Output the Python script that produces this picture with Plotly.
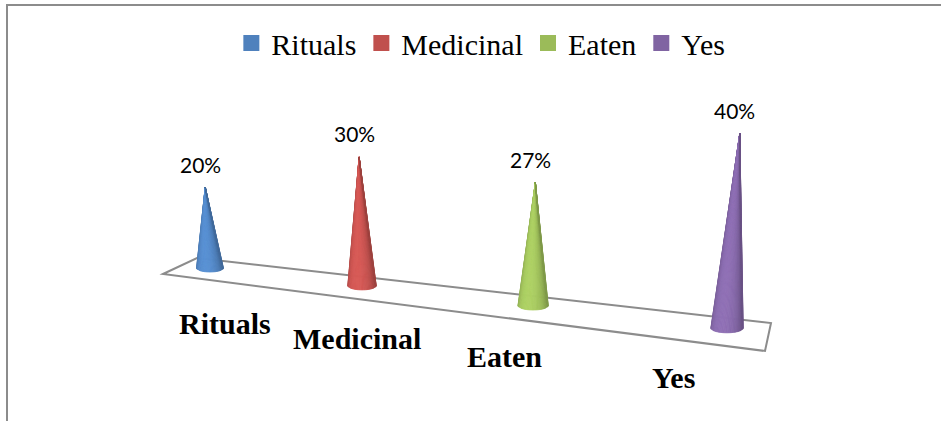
import numpy as np
import plotly.graph_objects as go

# ---- data ----
categories = ["Rituals", "Medicinal", "Eaten", "Yes"]
values = [20, 30, 27, 40]
value_labels = ["20%", "30%", "27%", "40%"]
colors = ["#4F81BD", "#C0504D", "#9BBB59", "#8064A2"]

# ---- canvas / perspective setup ----
W, H = 941, 421
GRID = "#8c8c8c"

# floor outline of the 3-D plot area (pixel corners)
floor_px = [(163, 274), (197, 258), (771, 323), (765, 351)]

# category axis in perspective: P(t) = (A + t*D) / (1 + PERSP*t)
AXIS_FIRST = np.array([210.0, 268.0])   # base centre of the first category
AXIS_LAST = np.array([727.0, 328.0])    # base centre of the last category
PERSP = -0.0556                          # perspective divisor per category step
PX_PER_UNIT = 4.05      # vertical pixels per percentage point (first category)
CONE_R = 13.5           # base radius (px, first category)
CONE_E = 4.0            # base ellipse half-height (px, first category)
VANISH = (456.0, 4455.0)  # vanishing point of vertical edges
N_SLICES = 36

n_cat = len(categories)
AXIS_D = (AXIS_LAST * (1 + PERSP * (n_cat - 1)) - AXIS_FIRST) / (n_cat - 1)


def project(t):
    w = 1 + PERSP * t
    p = (AXIS_FIRST + t * AXIS_D) / w
    return p[0], p[1], 1.0 / w


def shade(hex_color, factor):
    r, g, b = (int(hex_color[k:k + 2], 16) for k in (1, 3, 5))
    r, g, b = (min(255, max(0, round(c * factor))) for c in (r, g, b))
    return f"rgb({r},{g},{b})"


light = np.array([-0.35, 1.0]); light /= np.linalg.norm(light)

fig = go.Figure()

apexes = []
bases = []
for i, (cat, val, col) in enumerate(zip(categories, values, colors)):
    bx, by, s = project(i)
    h = val * PX_PER_UNIT * s
    r, e = CONE_R * s, CONE_E * s
    ax = bx + (bx - VANISH[0]) * h / (VANISH[1] - by)
    ay = by - h
    apexes.append((ax, ay))
    bases.append((bx, by))
    th = np.linspace(-np.pi / 2, np.pi / 2, N_SLICES + 1)
    for j in range(N_SLICES):
        t1, t2 = th[j], th[j + 1]
        tm = 0.5 * (t1 + t2)
        f = max(0.0, np.sin(tm) * light[0] + np.cos(tm) * light[1])
        c = shade(col, 0.82 + 0.30 * f)
        fig.add_trace(go.Scatter(
            x=[ax, bx + r * np.sin(t1), bx + r * np.sin(t2), ax],
            y=[ay, by + e * np.cos(t1), by + e * np.cos(t2), ay],
            mode="lines", fill="toself", fillcolor=c,
            line=dict(color=c, width=0.8),
            hoverinfo="skip", showlegend=False))

# legend entries
for cat, col in zip(categories, colors):
    fig.add_trace(go.Scatter(x=[None], y=[None], mode="markers", name=cat,
                             marker=dict(symbol="square", size=16, color=col)))

# value labels above cone tips
annotations = []
for (ax, ay), txt in zip(apexes, value_labels):
    annotations.append(dict(x=ax - 5, y=ay - 23, text=txt, showarrow=False,
                            xanchor="center", yanchor="middle",
                            font=dict(family="Lato", size=21, color="black")))

# category labels along the front of the floor
LBL_FIRST = (225.0, 333.0)
LBL_LAST = (673.0, 387.0)
x_first, x_last = bases[0][0], bases[-1][0]
for (bx, by), cat in zip(bases, categories):
    f = (bx - x_first) / (x_last - x_first)
    lx = LBL_FIRST[0] + f * (LBL_LAST[0] - LBL_FIRST[0])
    ly = LBL_FIRST[1] + f * (LBL_LAST[1] - LBL_FIRST[1])
    annotations.append(dict(x=lx, y=ly - 10, text=f"<b>{cat}</b>", showarrow=False,
                            xanchor="center", yanchor="middle",
                            font=dict(family="Liberation Serif", size=30, color="black")))

floor_path = "M " + " L ".join(f"{x} {y}" for x, y in floor_px) + " Z"
shapes = [
    dict(type="path", path=floor_path, xref="x", yref="y",
         line=dict(color=GRID, width=2), layer="below"),
    dict(type="path", path=f"M 7 {H} L 7 5 L {W} 5", xref="x", yref="y",
         line=dict(color=GRID, width=2)),
]

fig.update_layout(
    width=W, height=H,
    margin=dict(l=0, r=0, t=0, b=0),
    paper_bgcolor="white", plot_bgcolor="white",
    xaxis=dict(range=[0, W], visible=False, fixedrange=True),
    yaxis=dict(range=[H, 0], visible=False, fixedrange=True),
    showlegend=True,
    legend=dict(orientation="h", x=0.511, xanchor="center",
                y=1 - 43 / H, yanchor="middle", itemwidth=30,
                font=dict(family="Liberation Serif", size=30, color="black"),
                bgcolor="rgba(0,0,0,0)"),
    annotations=annotations,
    shapes=shapes,
)

fig.write_html("out.html")
